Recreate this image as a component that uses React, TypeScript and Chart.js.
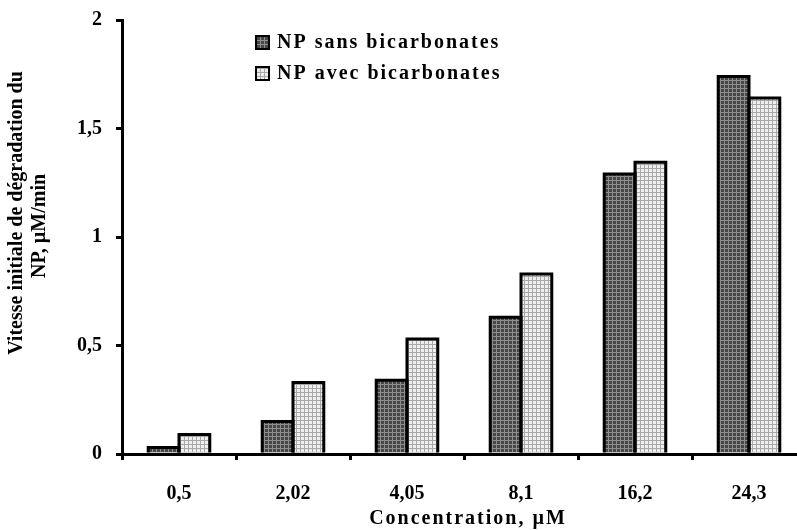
import React, { useEffect, useRef } from "react";
import { Chart, registerables } from "chart.js";

Chart.register(...registerables);

const categories = ["0,5", "2,02", "4,05", "8,1", "16,2", "24,3"];
const sansBicarbonates = [0.03, 0.15, 0.34, 0.63, 1.29, 1.74];
const avecBicarbonates = [0.09, 0.33, 0.53, 0.83, 1.345, 1.64];
const seriesLabels = ["NP sans bicarbonates", "NP avec bicarbonates"];
const yTickValues = [0, 0.5, 1, 1.5, 2];
const yTitleLines = ["Vitesse initiale de dégradation du", "NP, µM/min"];
const xTitle = "Concentration, µM";

const FONT = '"Liberation Serif", "Times New Roman", serif';

function makePattern(ctx: CanvasRenderingContext2D, bg: string, line: string) {
  const c = document.createElement("canvas");
  c.width = 4;
  c.height = 4;
  const g = c.getContext("2d")!;
  g.fillStyle = bg;
  g.fillRect(0, 0, 4, 4);
  g.fillStyle = line;
  g.fillRect(0, 0, 4, 1);
  g.fillRect(0, 0, 1, 4);
  return ctx.createPattern(c, "repeat")!;
}

export default function App() {
  const ref = useRef<HTMLCanvasElement | null>(null);

  useEffect(() => {
    const canvas = ref.current!;
    const ctx = canvas.getContext("2d")!;
    const darkPat = makePattern(ctx, "#474747", "#8e8e8e");
    const lightPat = makePattern(ctx, "#eeeeee", "#a8a8a8");
    const fills = [darkPat, lightPat];

    const outlinePlugin = {
      id: "outlines",
      afterDatasetsDraw(chart: any) {
        const c = chart.ctx;
        c.save();
        c.strokeStyle = "#000";
        c.lineWidth = 3;
        c.lineJoin = "miter";
        chart.data.datasets.forEach((_: any, di: number) => {
          const meta = chart.getDatasetMeta(di);
          meta.data.forEach((el: any) => {
            const p = el.getProps(["x", "y", "base", "width"], true);
            const l = p.x - p.width / 2;
            const r = p.x + p.width / 2;
            c.beginPath();
            c.moveTo(l, p.base);
            c.lineTo(l, p.y);
            c.lineTo(r, p.y);
            c.lineTo(r, p.base);
            c.stroke();
          });
        });
        c.restore();
      },
    };

    const textPlugin = {
      id: "texts",
      afterDraw(chart: any) {
        const c = chart.ctx;
        c.save();
        const legendY = [43, 74];
        seriesLabels.forEach((lab, i) => {
          const y = legendY[i];
          c.fillStyle = fills[i];
          c.fillRect(256, y - 7, 13, 13);
          c.strokeStyle = "#000";
          c.lineWidth = 2;
          c.strokeRect(256, y - 7, 13, 13);
          c.fillStyle = "#000";
          c.font = `bold 20px ${FONT}`;
          c.textAlign = "left";
          c.textBaseline = "middle";
          (c as any).letterSpacing = "2px";
          c.fillText(lab, 277, y);
          (c as any).letterSpacing = "0px";
        });
        c.font = `bold 20px ${FONT}`;
        c.textAlign = "center";
        c.textBaseline = "middle";
        (c as any).letterSpacing = "2px";
        c.fillText(xTitle, 468, 519);
        (c as any).letterSpacing = "0px";
        c.font = `bold 20px ${FONT}`;
        const xs = [17, 40];
        const ys = [213, 226];
        yTitleLines.forEach((line, i) => {
          c.save();
          c.translate(xs[i], ys[i]);
          c.rotate(-Math.PI / 2);
          c.textAlign = "center";
          c.textBaseline = "middle";
          c.fillText(line, 0, 0);
          c.restore();
        });
        c.restore();
      },
    };

    const tickFont = { family: FONT, size: 20, weight: "bold" as const };

    const chart = new Chart(canvas, {
      type: "bar",
      data: {
        labels: categories,
        datasets: [
          {
            label: seriesLabels[0],
            data: sansBicarbonates,
            backgroundColor: darkPat,
            borderWidth: 0,
          },
          {
            label: seriesLabels[1],
            data: avecBicarbonates,
            backgroundColor: lightPat,
            borderWidth: 0,
          },
        ],
      },
      options: {
        responsive: false,
        animation: false,
        devicePixelRatio: 1,
        layout: { padding: { top: 20, right: 6, left: 0, bottom: 0 } },
        datasets: { bar: { categoryPercentage: 0.54, barPercentage: 1 } },
        plugins: {
          legend: { display: false },
          tooltip: { enabled: false },
          title: { display: false },
        },
        scales: {
          x: {
            grid: {
              display: true,
              drawOnChartArea: false,
              drawTicks: true,
              tickLength: 6,
              color: "#000",
              lineWidth: 3,
              offset: true,
            },
            border: { display: true, color: "#000", width: 3 },
            ticks: {
              color: "#000",
              font: tickFont,
              padding: 22,
              maxRotation: 0,
              autoSkip: false,
            },
            afterFit: (s: any) => {
              s.height = 76;
              s.paddingLeft = 0;
              s.paddingRight = 0;
            },
          },
          y: {
            min: 0,
            max: 2,
            afterBuildTicks: (s: any) => {
              s.ticks = yTickValues.map((v) => ({ value: v }));
            },
            grid: {
              display: true,
              drawOnChartArea: false,
              drawTicks: true,
              tickLength: 6,
              color: "#000",
              lineWidth: 3,
            },
            border: { display: true, color: "#000", width: 3 },
            ticks: {
              color: "#000",
              font: tickFont,
              padding: 14,
              callback: (v: any) => String(v).replace(".", ","),
            },
            afterFit: (s: any) => {
              s.width = 122;
              s.paddingTop = 0;
              s.paddingBottom = 0;
            },
          },
        },
      },
      plugins: [outlinePlugin, textPlugin],
    });
    return () => chart.destroy();
  }, []);

  return (
    <div
      style={{
        position: "fixed",
        left: 0,
        top: 0,
        width: 797,
        height: 530,
        overflow: "hidden",
        background: "#fff",
      }}
    >
      <canvas ref={ref} width={812} height={530} style={{ display: "block" }} />
    </div>
  );
}
